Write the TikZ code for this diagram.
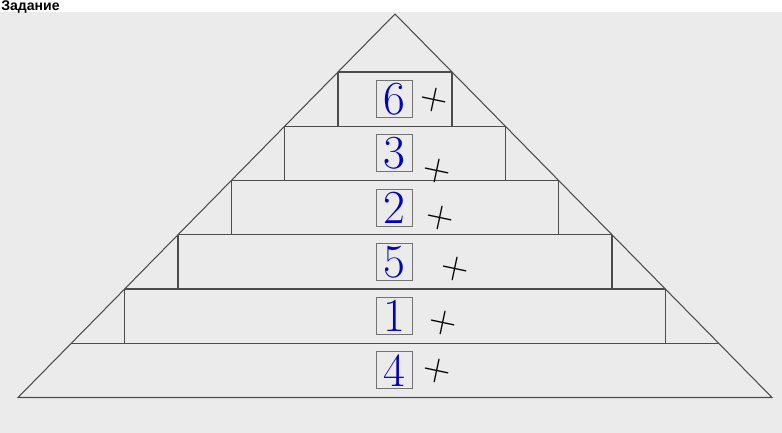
\documentclass[tikz,border=0pt]{standalone}
\usepackage{fontspec}
\newfontfamily\headfont{Liberation Sans}
\usetikzlibrary{positioning}

\tikzset{
  pencil/.style={draw=black!70, line width=0.6pt},
  answerbox/.style={draw=black!55, line width=0.5pt, minimum width=0.72cm, minimum height=0.74cm,
    inner sep=0pt, text=blue!75!black, font=\fontsize{27}{27}\selectfont},
  tickmark/.style={inner sep=0pt, font=\fontsize{22}{22}\selectfont, rotate=-12}
}

\begin{document}
\begin{tikzpicture}[x=0.02cm, y=-0.02cm]
  \useasboundingbox (0,0) rectangle (782,433);
  \clip (0,0) rectangle (782,433);
  \fill[white] (0,0) rectangle (782,433);
  \fill[gray!16] (0,12) rectangle (782,433);

  % === HEADER ===
  \node[anchor=base west, inner sep=0pt, font=\headfont\bfseries\fontsize{8}{8}\selectfont] (head) at (1,10.5) {Задание};

  % === PYRAMID ===
  \coordinate (apex) at (395,14);
  \coordinate (bl) at (18,397.5);
  \coordinate (br) at (772,397.5);
  \draw[pencil] (bl) -- (apex) -- (br) -- cycle;

  % top chord of the first step
  \draw[pencil] (338,72) -- (452,72);

  % chords below each band
  \foreach \k in {0,...,4} {
    \pgfmathsetmacro\yb{72+(\k+1)*54.25}
    \pgfmathsetmacro\hwb{(\yb-14)*0.983}
    \draw[pencil] (395-\hwb,\yb) -- (395+\hwb,\yb);
  }

  % side walls of the five upper steps
  \foreach \k in {0,...,4} {
    \pgfmathsetmacro\ya{72+\k*54.25}
    \pgfmathsetmacro\yb{\ya+54.25}
    \pgfmathsetmacro\hw{(\ya-14)*0.983}
    \draw[pencil] (395-\hw,\ya) -- (395-\hw,\yb);
    \draw[pencil] (395+\hw,\ya) -- (395+\hw,\yb);
  }

  % === ANSWER BOXES ===
  \foreach \d [count=\i from 0] in {6,3,2,5,1,4} {
    \node[answerbox] (box\d) at (394,{99+\i*54.25}) {\d};
  }

  % === TICKS ===
  \foreach \d/\px/\py in {6/434/100, 3/437/171, 2/440/218, 5/455/269, 1/443/323, 4/437/371} {
    \node[tickmark] (tick\d) at (\px,\py) {+};
  }
\end{tikzpicture}
\end{document}
